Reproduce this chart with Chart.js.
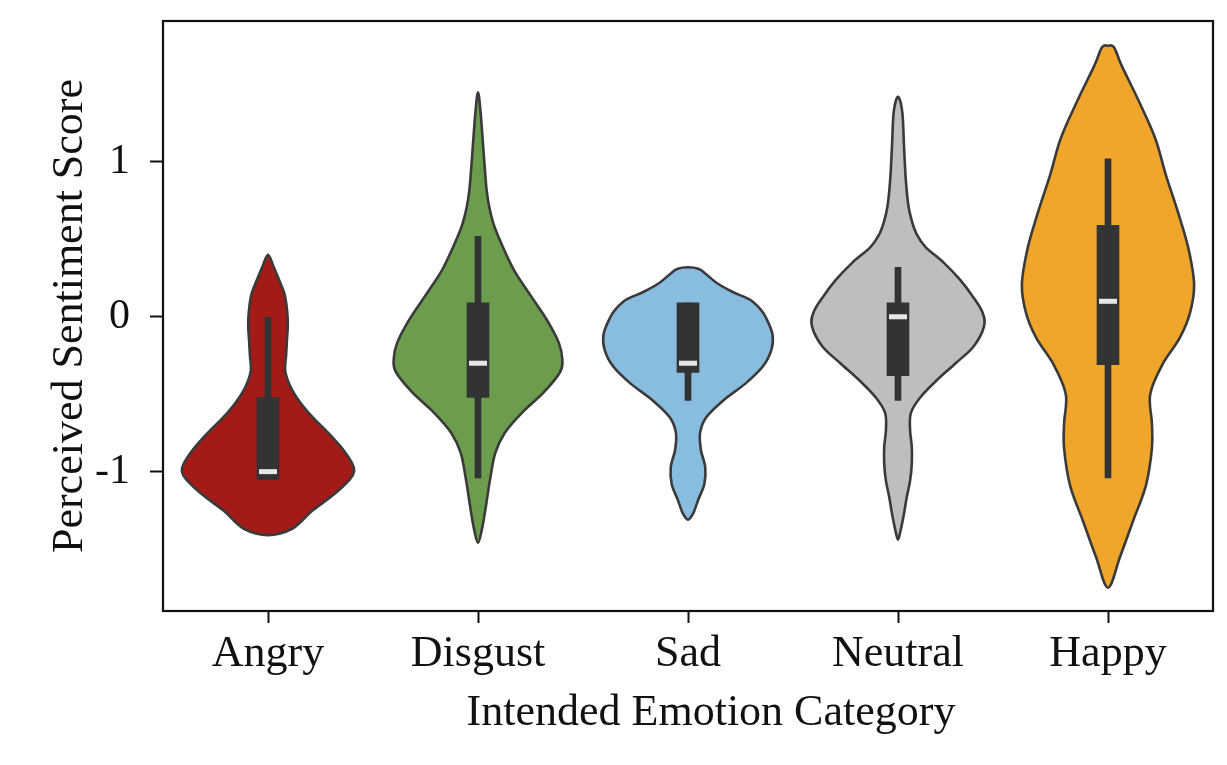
<!DOCTYPE html>
<html lang="en">
<head>
<meta charset="UTF-8">
<title>Perceived Sentiment by Intended Emotion</title>
<script src="https://cdn.jsdelivr.net/npm/chart.js"></script>
<style>
  html, body { margin: 0; padding: 0; background: #fff; }
  #wrap { width: 1227px; height: 765px; }
</style>
</head>
<body>
<div id="wrap"><canvas id="violinChart" width="1227" height="765"></canvas></div>
<script>
// categories + box stats
const categories = ["Angry", "Disgust", "Sad", "Neutral", "Happy"];
const q1 = [-1.05, -0.52, -0.36, -0.38, -0.31];
const q3 = [-0.52, 0.09, 0.09, 0.09, 0.59];
const medians = [-1.00, -0.30, -0.30, 0.00, 0.10];
const whiskerLow = [-1.05, -1.04, -0.54, -0.54, -1.04];
const whiskerHigh = [0.00, 0.52, 0.09, 0.32, 1.02];
const yTicks = [-1, 0, 1];
const xTitle = "Intended Emotion Category";
const yTitle = "Perceived Sentiment Score";

// violin outlines: score values and relative density (1 = widest)
const angryY = [0.40, 0.33, 0.25, 0.15, 0.05, -0.05, -0.15, -0.25, -0.35, -0.45, -0.55, -0.65, -0.75, -0.85, -0.95, -1.00, -1.05, -1.15, -1.25, -1.33, -1.37, -1.40, -1.41];
const angryD = [0, 0.06, 0.12, 0.19, 0.22, 0.23, 0.22, 0.21, 0.20, 0.26, 0.37, 0.52, 0.70, 0.86, 0.98, 1.00, 0.95, 0.76, 0.52, 0.37, 0.28, 0.14, 0];
const disgustY = [1.45, 1.32, 1.10, 0.95, 0.82, 0.71, 0.60, 0.50, 0.40, 0.28, 0.13, -0.02, -0.17, -0.28, -0.36, -0.49, -0.62, -0.75, -0.88, -1.05, -1.23, -1.36, -1.46];
const disgustD = [0, 0.03, 0.06, 0.08, 0.10, 0.13, 0.18, 0.25, 0.33, 0.44, 0.62, 0.80, 0.94, 0.98, 0.95, 0.76, 0.51, 0.31, 0.20, 0.14, 0.09, 0.05, 0];
const sadY = [0.32, 0.31, 0.28, 0.22, 0.16, 0.11, 0.05, 0.00, -0.11, -0.21, -0.32, -0.43, -0.54, -0.65, -0.75, -0.86, -0.97, -1.08, -1.18, -1.27, -1.31];
const sadD = [0, 0.12, 0.20, 0.33, 0.52, 0.72, 0.84, 0.90, 0.98, 0.97, 0.87, 0.67, 0.41, 0.21, 0.14, 0.15, 0.20, 0.19, 0.12, 0.06, 0];
const neutralY = [1.42, 1.32, 1.10, 0.89, 0.72, 0.62, 0.53, 0.45, 0.35, 0.24, 0.13, 0.03, -0.06, -0.19, -0.30, -0.41, -0.52, -0.62, -0.73, -0.84, -0.95, -1.06, -1.17, -1.27, -1.38, -1.44];
const neutralD = [0, 0.05, 0.07, 0.09, 0.12, 0.16, 0.22, 0.32, 0.53, 0.72, 0.87, 0.98, 1.00, 0.88, 0.67, 0.45, 0.26, 0.15, 0.14, 0.16, 0.16, 0.14, 0.10, 0.07, 0.03, 0];
const happyY = [1.75, 1.74, 1.62, 1.39, 1.15, 0.92, 0.68, 0.45, 0.21, 0.02, -0.14, -0.31, -0.50, -0.69, -0.85, -1.09, -1.32, -1.55, -1.75];
const happyD = [0, 0.07, 0.16, 0.36, 0.55, 0.67, 0.81, 0.93, 1.00, 0.95, 0.83, 0.63, 0.49, 0.51, 0.51, 0.44, 0.29, 0.14, 0];

const violinColors = ["#a31a17", "#6c9d4c", "#88bddf", "#bebebe", "#f0a62b"];
const outline = "#3a3a3a";
const boxColor = "#333333";
const serif = "'Liberation Serif', 'Times New Roman', serif";

const profiles = [
  { ys: angryY, ds: angryD },
  { ys: disgustY, ds: disgustD },
  { ys: sadY, ds: sadD },
  { ys: neutralY, ds: neutralD },
  { ys: happyY, ds: happyD }
];

// closed catmull-rom through the outline points
function smoothPath(ctx, pts) {
  const n = pts.length;
  ctx.moveTo(pts[0][0], pts[0][1]);
  for (let i = 0; i < n; i++) {
    const p0 = pts[(i - 1 + n) % n], p1 = pts[i], p2 = pts[(i + 1) % n], p3 = pts[(i + 2) % n];
    ctx.bezierCurveTo(
      p1[0] + (p2[0] - p0[0]) / 6, p1[1] + (p2[1] - p0[1]) / 6,
      p2[0] - (p3[0] - p1[0]) / 6, p2[1] - (p3[1] - p1[1]) / 6,
      p2[0], p2[1]
    );
  }
  ctx.closePath();
}

const violinPlugin = {
  id: "violins",
  beforeDatasetsDraw(chart) {
    const { ctx, scales: { x, y } } = chart;
    const halfMax = x.width / categories.length * 0.41;
    ctx.save();
    profiles.forEach((p, i) => {
      const cx = x.getPixelForValue(i);
      const right = p.ys.map((v, k) => [cx + p.ds[k] * halfMax, y.getPixelForValue(v)]);
      const left = right.slice(1, -1).reverse().map(([px, py]) => [2 * cx - px, py]);
      ctx.beginPath();
      smoothPath(ctx, right.concat(left));
      ctx.fillStyle = violinColors[i];
      ctx.fill();
      ctx.lineWidth = 2.6;
      ctx.lineJoin = "round";
      ctx.strokeStyle = outline;
      ctx.stroke();
    });
    ctx.restore();
  },
  afterDatasetsDraw(chart) {
    const { ctx, scales: { x, y } } = chart;
    ctx.save();
    ctx.fillStyle = "#e6e6e6";
    medians.forEach((m, i) => {
      ctx.fillRect(x.getPixelForValue(i) - 9, y.getPixelForValue(m) - 2.5, 18, 5);
    });
    ctx.restore();
  },
  afterDraw(chart) {
    const { ctx, chartArea: a } = chart;
    ctx.save();
    ctx.strokeStyle = "#111";
    ctx.lineWidth = 2.2;
    ctx.strokeRect(a.left, a.top, a.right - a.left, a.bottom - a.top);
    // x title sits a little right of the axis centre in the figure
    ctx.fillStyle = "#111";
    ctx.font = "44px " + serif;
    ctx.textAlign = "center";
    ctx.textBaseline = "middle";
    ctx.fillText(xTitle, (a.left + a.right) / 2 + 23, a.bottom + 102);
    ctx.restore();
  }
};

new Chart(document.getElementById("violinChart"), {
  type: "bar",
  data: {
    labels: categories,
    datasets: [
      {
        label: "IQR",
        data: q1.map((v, i) => [v, q3[i]]),
        backgroundColor: boxColor,
        barThickness: 22,
        grouped: false,
        order: 1
      },
      {
        label: "Whiskers",
        data: whiskerLow.map((v, i) => [v, whiskerHigh[i]]),
        backgroundColor: boxColor,
        barThickness: 6,
        grouped: false,
        order: 2
      }
    ]
  },
  options: {
    responsive: false,
    animation: false,
    layout: { padding: { top: 21, right: 14, left: 0, bottom: 0 } },
    plugins: { legend: { display: false }, tooltip: { enabled: false } },
    scales: {
      x: {
        offset: true,
        border: { display: false },
        grid: { offset: false, drawOnChartArea: false, drawTicks: true, tickLength: 12, tickColor: "#111", tickWidth: 2 },
        ticks: { color: "#111", padding: 5, font: { family: serif, size: 44 } },
        afterFit(scale) {
          scale.height = 154;
          scale.paddingLeft = 0;
          scale.paddingRight = 0;
        }
      },
      y: {
        min: -1.9,
        max: 1.91,
        border: { display: false },
        grid: { drawOnChartArea: false, drawTicks: true, tickLength: 13, tickColor: "#111", tickWidth: 2 },
        ticks: { color: "#111", padding: 20, font: { family: serif, size: 42 }, callback: v => String(v) },
        afterBuildTicks(scale) { scale.ticks = yTicks.map(v => ({ value: v })); },
        title: {
          display: true,
          text: yTitle,
          color: "#111",
          font: { family: serif, size: 44 },
          padding: { top: 44, bottom: 0 }
        },
        afterFit(scale) {
          scale.width = 163;
          scale.paddingTop = 0;
          scale.paddingBottom = 0;
        }
      }
    }
  },
  plugins: [violinPlugin]
});
</script>
</body>
</html>
